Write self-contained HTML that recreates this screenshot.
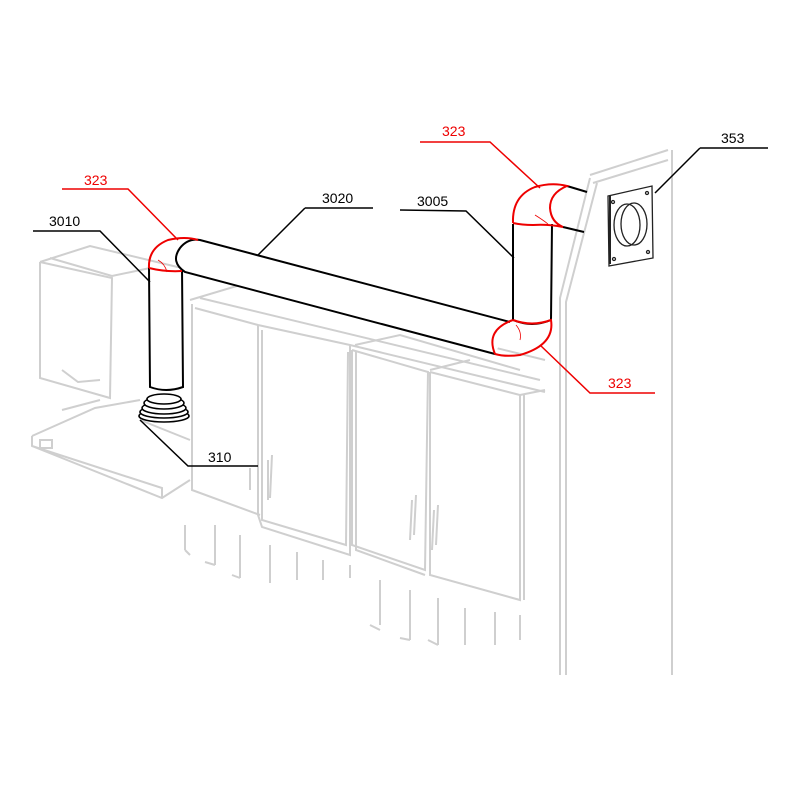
<!DOCTYPE html>
<html><head><style>body{margin:0;background:#fff}svg{display:block}text{font-family:"Liberation Sans",sans-serif;font-size:14px}</style></head><body>
<svg width="800" height="800" viewBox="0 0 800 800" xmlns="http://www.w3.org/2000/svg">
<g fill="none" stroke="#cfcfcf" stroke-width="2">
<path d="M40,262 L90,246 L190,270"/><path d="M40,262 L40,378 L110,398 L112,278 L40,262"/><path d="M50,258 L112,276 L150,268"/>
<path d="M62,370 L78,382 L100,380"/>
<path d="M32,436 L95,408 L140,400 M32,436 L32,446 L162,498 L190,480 M32,446 L162,488 L162,498 M62,410 L100,400"/><rect x="40" y="440" width="12" height="8"/>
<path d="M140,420 L190,440"/>
<path d="M190,300 L240,285 L545,360 M195,308 L258,325 L350,345 L545,392 M200,298 L540,380"/>
<path d="M192,304 L192,490 L260,515"/><path d="M258,325 L258,515 L262,527 L350,555 L350,345"/><path d="M262,330 L262,520 L346,545 L348,352"/>
<path d="M352,350 L352,545 L425,570 L428,372 L352,350"/><path d="M356,352 L356,550 L425,575 M430,372 L430,575 L520,600 L520,395 L430,372"/>
<path d="M355,345 L400,335 L520,370 M430,370 L470,360 M520,395 L545,390 M524,395 L524,600"/>
<path d="M268,460 L268,500 M272,455 L270,498 M412,500 L410,540 M416,495 L414,535 M434,510 L432,550 M438,505 L436,545 M250,468 L250,490 M352,390 L352,420 M520,440 L520,520"/>
<path d="M185,525 L185,550 M215,525 L215,565 M240,535 L240,578 M270,545 L270,583 M297,552 L297,580 M323,560 L323,580 M350,565 L350,578 M380,580 L380,625 M410,590 L410,640 M438,598 L438,645 M465,608 L465,645 M495,612 L495,645 M520,615 L520,640 M185,550 L190,555 M205,562 L215,565 M232,575 L240,578 M370,625 L380,630 M400,638 L410,640 M428,640 L438,645"/>
<path d="M590,175 L668,150 M593,183 L668,160 M672,150 L672,675 M590,178 L560,298 L560,675 M597,183 L566,302 L566,675"/>
</g>
<g fill="none" stroke="#222" stroke-width="1.3">
<path d="M608,196 L652,186 L653,258 L609,266 Z"/><path d="M610,196 L610,264" stroke-width="2"/>
<ellipse cx="627" cy="225" rx="13" ry="21"/><ellipse cx="634" cy="224" rx="13" ry="21"/>
<circle cx="613" cy="202" r="1.5"/><circle cx="647" cy="193" r="1.5"/><circle cx="648" cy="252" r="1.5"/><circle cx="614" cy="259" r="1.5"/>
</g>
<g fill="#fff" stroke="#000" stroke-width="2">
<path d="M149,268 L150,387 Q166,393 183,387 L182,268"/>
<path d="M513,224 L513,320 Q532,328 551,320 L552,224"/>
</g>
<path d="M510,322 L200,240 Q188,238 180,248 Q170,262 185,272 L495,354" fill="#fff" stroke="#000" stroke-width="2"/>
<path d="M567,186 L587,192 M563,227 L584,232" stroke="#000" stroke-width="2" fill="none"/>
<g fill="#fff" stroke="#000" stroke-width="1.6">
<ellipse cx="164" cy="416" rx="25" ry="6"/><ellipse cx="164" cy="412" rx="24" ry="6"/><ellipse cx="164" cy="408" rx="22" ry="6"/><ellipse cx="164" cy="403" rx="20" ry="6"/><ellipse cx="164" cy="399" rx="17" ry="5"/>
</g>
<g fill="none" stroke="#e00" stroke-width="2">
<path d="M149,268 Q148,248 168,240 Q185,236 198,240 M149,268 Q165,272 182,271"/>
<path d="M158,260 Q165,264 167,272" stroke-width="0.8"/>
<path d="M495,354 Q485,330 513,320 M513,320 Q532,327 551,320 Q555,345 520,355 Q505,357 495,354"/>
<path d="M516,325 Q522,332 520,340" stroke-width="0.8"/>
<path d="M513,223 Q512,196 535,187 Q552,182 567,186 Q550,193 550,208 Q551,222 563,227 Q548,224 533,225 Q522,225 513,223"/>
<path d="M535,215 Q543,220 548,224" stroke-width="0.8"/>
</g>
<g fill="none" stroke-width="1.5">
<path stroke="#e00" d="M420,142 L490,142 L540,188"/>
<path stroke="#e00" d="M62,189 L128,189 L178,240"/>
<path stroke="#e00" d="M540,345 L590,393 L655,393"/>
<path stroke="#000" d="M700,148 L768,148 M700,148 L655,193"/>
<path stroke="#000" d="M33,231 L100,231 L150,282"/>
<path stroke="#000" d="M305,208 L373,208 M305,208 L258,255"/>
<path stroke="#000" d="M400,210 L466,211 L514,258"/>
<path stroke="#000" d="M140,420 L188,466 L258,466"/>
</g>
<text x="442" y="136" fill="#e00">323</text>
<text x="84" y="185" fill="#e00">323</text>
<text x="608" y="388" fill="#e00">323</text>
<text x="721" y="143">353</text>
<text x="49" y="226">3010</text>
<text x="322" y="203">3020</text>
<text x="417" y="206">3005</text>
<text x="208" y="462">310</text>
</svg>
</body></html>
